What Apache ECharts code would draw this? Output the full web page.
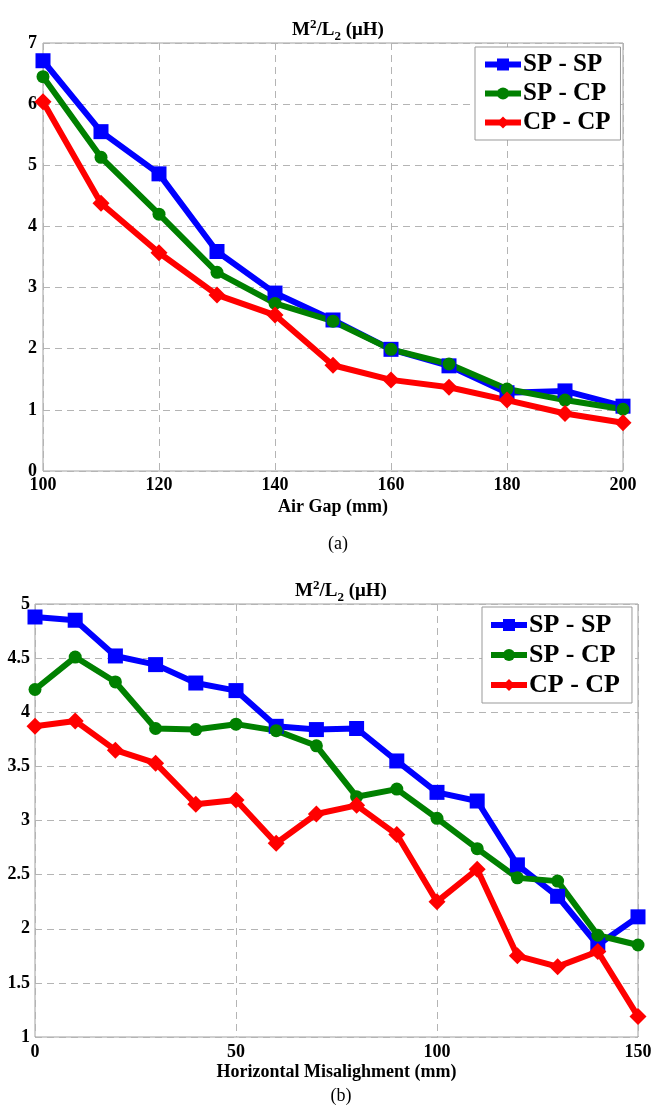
<!DOCTYPE html>
<html>
<head>
<meta charset="utf-8">
<script src="https://cdn.jsdelivr.net/npm/echarts@6/dist/echarts.min.js"></script>
<style>
  html, body { margin: 0; padding: 0; background: #fff; }
  #chart { width: 655px; height: 1117px; }
</style>
</head>
<body>
<div id="chart"></div>
<script>
// (a) M^2/L2 vs air gap
var gapMm = [100, 110, 120, 130, 140, 150, 160, 170, 180, 190, 200];
var gapSPSP = [6.71, 5.55, 4.86, 3.59, 2.91, 2.47, 1.99, 1.72, 1.28, 1.31, 1.06];
var gapSPCP = [6.45, 5.13, 4.20, 3.25, 2.74, 2.45, 1.99, 1.75, 1.34, 1.16, 1.01];
var gapCPCP = [6.04, 4.38, 3.57, 2.88, 2.55, 1.73, 1.49, 1.37, 1.16, 0.94, 0.79];

// (b) M^2/L2 vs horizontal misalignment
var misMm = [0, 10, 20, 30, 40, 50, 60, 70, 80, 90, 100, 110, 120, 130, 140, 150];
var misSPSP = [4.88, 4.85, 4.52, 4.44, 4.27, 4.20, 3.87, 3.84, 3.85, 3.55, 3.26, 3.18, 2.59, 2.30, 1.85, 2.11];
var misSPCP = [4.21, 4.51, 4.28, 3.85, 3.84, 3.89, 3.83, 3.69, 3.22, 3.29, 3.02, 2.74, 2.47, 2.44, 1.94, 1.85];
var misCPCP = [3.87, 3.92, 3.65, 3.53, 3.15, 3.19, 2.79, 3.06, 3.14, 2.87, 2.25, 2.55, 1.75, 1.65, 1.79, 1.19];

var seriesNames = ['SP - SP', 'SP - CP', 'CP - CP'];
var seriesColors = ['#0000ff', '#008000', '#ff0000'];
var seriesSymbols = ['rect', 'circle', 'diamond'];
var symbolSizes = [15, 13, 17];

var FONT = '"Liberation Serif", "Times New Roman", serif';

function pairs(xs, ys) {
  var out = [];
  for (var i = 0; i < xs.length; i++) out.push([xs[i], ys[i]]);
  return out;
}

function makeSeries(idx, gridIdx, xs, ys) {
  return {
    name: seriesNames[idx],
    type: 'line',
    xAxisIndex: gridIdx,
    yAxisIndex: gridIdx,
    data: pairs(xs, ys),
    symbol: seriesSymbols[idx],
    symbolSize: symbolSizes[idx],
    color: seriesColors[idx],
    lineStyle: { width: 6, color: seriesColors[idx] },
    itemStyle: { color: seriesColors[idx] }
  };
}

var splitStyle = { show: true, lineStyle: { color: '#b4b4b4', width: 1, type: [7, 5] } };
var labelStyle = { fontFamily: FONT, fontWeight: 'bold', fontSize: 18, color: '#000' };
var nameStyle = { fontFamily: FONT, fontWeight: 'bold', fontSize: 18, color: '#000' };

function titleText() {
  return '{m|M}{s|2}{m|/L}{b|2}{m| (μH)}';
}
var titleRich = {
  m: { fontFamily: FONT, fontWeight: 'bold', fontSize: 19, lineHeight: 25, color: '#000' },
  s: { fontFamily: FONT, fontWeight: 'bold', fontSize: 13, lineHeight: 13, verticalAlign: 'top', color: '#000' },
  b: { fontFamily: FONT, fontWeight: 'bold', fontSize: 13, lineHeight: 13, verticalAlign: 'bottom', color: '#000' }
};

function legendFor(left, top, fontSize, pad) {
  return {
    orient: 'vertical',
    left: left,
    top: top,
    padding: pad,
    itemGap: 4,
    itemWidth: 36,
    itemHeight: 15,
    backgroundColor: '#fff',
    borderColor: '#999',
    borderWidth: 1,
    borderRadius: 0,
    lineStyle: { width: 6 },
    data: seriesNames,
    textStyle: { fontFamily: FONT, fontWeight: 'bold', fontSize: fontSize, lineHeight: fontSize, color: '#000', padding: [0, 0, 0, -3] }
  };
}

var chart = echarts.init(document.getElementById('chart'), null, { renderer: 'canvas' });

var option = {
  animation: false,
  backgroundColor: '#fff',
  title: [
    { text: titleText(), left: 333, top: 13, textAlign: 'center', textStyle: { rich: titleRich } },
    { text: titleText(), left: 336, top: 574, textAlign: 'center', textStyle: { rich: titleRich } },
    { text: '(a)', left: 333, top: 530, textAlign: 'center',
      textStyle: { fontFamily: FONT, fontWeight: 'normal', fontSize: 18, color: '#000' } },
    { text: '(b)', left: 336, top: 1082, textAlign: 'center',
      textStyle: { fontFamily: FONT, fontWeight: 'normal', fontSize: 18, color: '#000' } }
  ],
  legend: [
    legendFor(475, 47, 25, [5, 10, 5, 7]),
    legendFor(482, 607, 26, [5, 12, 5, 6])
  ],
  grid: [
    { left: 43, top: 43, width: 580, height: 428, show: true, borderColor: '#a0a0a0', borderWidth: 1, backgroundColor: '#fff' },
    { left: 35, top: 604, width: 603, height: 433, show: true, borderColor: '#a0a0a0', borderWidth: 1, backgroundColor: '#fff' }
  ],
  xAxis: [
    { type: 'value', gridIndex: 0, min: 100, max: 200, interval: 20,
      name: 'Air Gap (mm)', nameLocation: 'middle', nameGap: 27, nameTextStyle: nameStyle,
      axisLine: { show: false }, axisTick: { show: false },
      axisLabel: Object.assign({ margin: 5 }, labelStyle), splitLine: splitStyle },
    { type: 'value', gridIndex: 1, min: 0, max: 150, interval: 50,
      name: 'Horizontal Misalighment (mm)', nameLocation: 'middle', nameGap: 26, nameTextStyle: nameStyle,
      axisLine: { show: false }, axisTick: { show: false },
      axisLabel: Object.assign({ margin: 6 }, labelStyle), splitLine: splitStyle }
  ],
  yAxis: [
    { type: 'value', gridIndex: 0, min: 0, max: 7, interval: 1,
      axisLine: { show: false }, axisTick: { show: false },
      axisLabel: Object.assign({ margin: 6 }, labelStyle), splitLine: splitStyle },
    { type: 'value', gridIndex: 1, min: 1, max: 5, interval: 0.5,
      axisLine: { show: false }, axisTick: { show: false },
      axisLabel: Object.assign({ margin: 5 }, labelStyle), splitLine: splitStyle }
  ],
  series: [
    makeSeries(0, 0, gapMm, gapSPSP),
    makeSeries(1, 0, gapMm, gapSPCP),
    makeSeries(2, 0, gapMm, gapCPCP),
    makeSeries(0, 1, misMm, misSPSP),
    makeSeries(1, 1, misMm, misSPCP),
    makeSeries(2, 1, misMm, misCPCP)
  ]
};

chart.setOption(option);
</script>
</body>
</html>
